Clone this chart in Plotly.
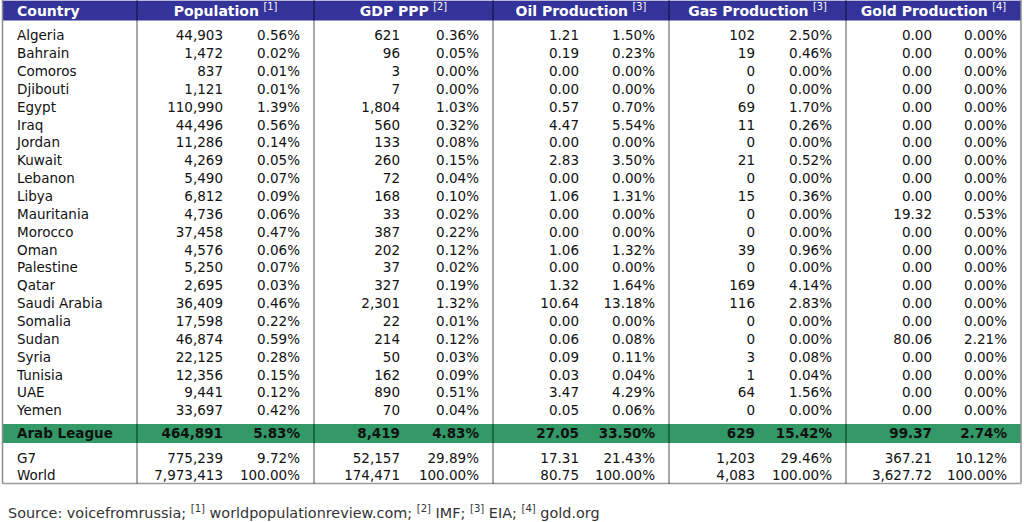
import plotly.graph_objects as go

# ---------------- data ----------------
countries = ["Algeria", "Bahrain", "Comoros", "Djibouti", "Egypt", "Iraq", "Jordan", "Kuwait",
             "Lebanon", "Libya", "Mauritania", "Morocco", "Oman", "Palestine", "Qatar",
             "Saudi Arabia", "Somalia", "Sudan", "Syria", "Tunisia", "UAE", "Yemen"]
population = [44903, 1472, 837, 1121, 110990, 44496, 11286, 4269, 5490, 6812, 4736, 37458,
              4576, 5250, 2695, 36409, 17598, 46874, 22125, 12356, 9441, 33697]
population_pct = [0.56, 0.02, 0.01, 0.01, 1.39, 0.56, 0.14, 0.05, 0.07, 0.09, 0.06, 0.47,
                  0.06, 0.07, 0.03, 0.46, 0.22, 0.59, 0.28, 0.15, 0.12, 0.42]
gdp_ppp = [621, 96, 3, 7, 1804, 560, 133, 260, 72, 168, 33, 387, 202, 37, 327, 2301, 22,
           214, 50, 162, 890, 70]
gdp_ppp_pct = [0.36, 0.05, 0.00, 0.00, 1.03, 0.32, 0.08, 0.15, 0.04, 0.10, 0.02, 0.22, 0.12,
               0.02, 0.19, 1.32, 0.01, 0.12, 0.03, 0.09, 0.51, 0.04]
oil = [1.21, 0.19, 0.00, 0.00, 0.57, 4.47, 0.00, 2.83, 0.00, 1.06, 0.00, 0.00, 1.06, 0.00,
       1.32, 10.64, 0.00, 0.06, 0.09, 0.03, 3.47, 0.05]
oil_pct = [1.50, 0.23, 0.00, 0.00, 0.70, 5.54, 0.00, 3.50, 0.00, 1.31, 0.00, 0.00, 1.32, 0.00,
           1.64, 13.18, 0.00, 0.08, 0.11, 0.04, 4.29, 0.06]
gas = [102, 19, 0, 0, 69, 11, 0, 21, 0, 15, 0, 0, 39, 0, 169, 116, 0, 0, 3, 1, 64, 0]
gas_pct = [2.50, 0.46, 0.00, 0.00, 1.70, 0.26, 0.00, 0.52, 0.00, 0.36, 0.00, 0.00, 0.96, 0.00,
           4.14, 2.83, 0.00, 0.00, 0.08, 0.04, 1.56, 0.00]
gold = [0.00, 0.00, 0.00, 0.00, 0.00, 0.00, 0.00, 0.00, 0.00, 0.00, 19.32, 0.00, 0.00, 0.00,
        0.00, 0.00, 0.00, 80.06, 0.00, 0.00, 0.00, 0.00]
gold_pct = [0.00, 0.00, 0.00, 0.00, 0.00, 0.00, 0.00, 0.00, 0.00, 0.00, 0.53, 0.00, 0.00, 0.00,
            0.00, 0.00, 0.00, 2.21, 0.00, 0.00, 0.00, 0.00]

total_labels = ["Arab League", "G7", "World"]
total_population = [464891, 775239, 7973413]
total_population_pct = [5.83, 9.72, 100.00]
total_gdp_ppp = [8419, 52157, 174471]
total_gdp_ppp_pct = [4.83, 29.89, 100.00]
total_oil = [27.05, 17.31, 80.75]
total_oil_pct = [33.50, 21.43, 100.00]
total_gas = [629, 1203, 4083]
total_gas_pct = [15.42, 29.46, 100.00]
total_gold = [99.37, 367.21, 3627.72]
total_gold_pct = [2.74, 10.12, 100.00]

group_titles = ["Population", "GDP PPP", "Oil Production", "Gas Production", "Gold Production"]
group_refs = ["[1]", "[2]", "[3]", "[3]", "[4]"]
source_text = ("Source: voicefromrussia; <sup>[1]</sup> worldpopulationreview.com; "
               "<sup>[2]</sup> IMF; <sup>[3]</sup> EIA; <sup>[4]</sup> gold.org")

# ---------------- layout constants ----------------
W, H = 1024, 522
FONT = "DejaVu Sans"
HEADER_BLUE = "#333399"
GREEN = "#339966"
TEXT = "#111111"
TEXT_DY = 1.5
ROW0, PITCH = 35.5, 17.85
TOTAL_Y = [433.5, 458.5, 475.5]
LEFT, RIGHT = 2.5, 1021
HEADER_BOTTOM = 20.5
GREEN_TOP, GREEN_BOTTOM = 424, 443
TABLE_BOTTOM = 483.5
SEPS = [137, 314, 493, 669, 846]
COUNTRY_X = 17
NUM_OFFSET = 86      # number right edge relative to group left separator
PCT_OFFSET = 14      # percent right edge relative to group right edge
BODY_SIZE = 13.5
HEAD_SIZE = 14
SOURCE_SIZE = 14.4

row_y = [ROW0 + TEXT_DY + i * PITCH for i in range(len(countries))] + [t + TEXT_DY for t in TOTAL_Y]


def fmt_int(v):
    return f"{v:,}"


def fmt_dec(v):
    return f"{v:,.2f}"


def fmt_pct(v):
    return f"{v:.2f}%"


def bold_first(items):
    return [f"<b>{t}</b>" if i == len(countries) else t for i, t in enumerate(items)]


groups = [
    (population + total_population, population_pct + total_population_pct, fmt_int),
    (gdp_ppp + total_gdp_ppp, gdp_ppp_pct + total_gdp_ppp_pct, fmt_int),
    (oil + total_oil, oil_pct + total_oil_pct, fmt_dec),
    (gas + total_gas, gas_pct + total_gas_pct, fmt_int),
    (gold + total_gold, gold_pct + total_gold_pct, fmt_dec),
]

fig = go.Figure()

# country column
fig.add_trace(go.Scatter(
    x=[COUNTRY_X] * len(row_y), y=row_y, mode="text",
    text=bold_first(countries + total_labels), textposition="middle right",
    textfont=dict(family=FONT, size=BODY_SIZE, color=TEXT), cliponaxis=False,
    hoverinfo="skip", showlegend=False))

edges = SEPS + [RIGHT]
for gi, (vals, pcts, f) in enumerate(groups):
    left, right = edges[gi], edges[gi + 1]
    fig.add_trace(go.Scatter(
        x=[left + NUM_OFFSET] * len(row_y), y=row_y, mode="text",
        text=bold_first([f(v) for v in vals]), textposition="middle left",
        textfont=dict(family=FONT, size=BODY_SIZE, color=TEXT), cliponaxis=False,
        hoverinfo="skip", showlegend=False))
    fig.add_trace(go.Scatter(
        x=[right - PCT_OFFSET] * len(row_y), y=row_y, mode="text",
        text=bold_first([fmt_pct(p) for p in pcts]), textposition="middle left",
        textfont=dict(family=FONT, size=BODY_SIZE, color=TEXT), cliponaxis=False,
        hoverinfo="skip", showlegend=False))

# header texts
head_y = HEADER_BOTTOM / 2 + 0.5 + TEXT_DY
head_x = [COUNTRY_X] + [(edges[i] + edges[i + 1]) / 2 for i in range(len(group_titles))]
head_text = ["<b>Country</b>"] + [f"<b>{t}</b> <sup>{r}</sup>" for t, r in zip(group_titles, group_refs)]
fig.add_trace(go.Scatter(
    x=head_x[:1], y=[head_y], mode="text", text=head_text[:1],
    textposition="middle right", cliponaxis=False,
    textfont=dict(family=FONT, size=HEAD_SIZE, color="white"),
    hoverinfo="skip", showlegend=False))
fig.add_trace(go.Scatter(
    x=head_x[1:], y=[head_y] * (len(head_x) - 1), mode="text",
    text=head_text[1:], textposition="middle center", cliponaxis=False,
    textfont=dict(family=FONT, size=HEAD_SIZE, color="white"),
    hoverinfo="skip", showlegend=False))

shapes = [
    dict(type="rect", x0=LEFT, x1=RIGHT, y0=0, y1=HEADER_BOTTOM, fillcolor=HEADER_BLUE,
         line=dict(width=0), layer="below"),
    dict(type="line", x0=LEFT, x1=RIGHT, y0=0.5, y1=0.5, line=dict(color="#b8b8dc", width=1)),
    dict(type="rect", x0=LEFT, x1=RIGHT, y0=GREEN_TOP, y1=GREEN_BOTTOM, fillcolor=GREEN,
         line=dict(width=0), layer="below"),
    dict(type="line", x0=LEFT, x1=LEFT, y0=0, y1=TABLE_BOTTOM, line=dict(color="#8c8c8c", width=1.5)),
    dict(type="line", x0=RIGHT, x1=RIGHT, y0=0, y1=TABLE_BOTTOM, line=dict(color="#8c8c8c", width=1.5)),
    dict(type="line", x0=LEFT, x1=RIGHT, y0=TABLE_BOTTOM, y1=TABLE_BOTTOM,
         line=dict(color="#9a9a9a", width=1.5)),
]
for s in SEPS:
    shapes.append(dict(type="line", x0=s, x1=s, y0=0, y1=TABLE_BOTTOM,
                       line=dict(color="rgba(0,0,0,0.45)", width=1.5)))

fig.update_layout(
    width=W, height=H, margin=dict(l=0, r=0, t=0, b=0),
    paper_bgcolor="white", plot_bgcolor="white",
    xaxis=dict(range=[0, W], visible=False, fixedrange=True),
    yaxis=dict(range=[H, 0], visible=False, fixedrange=True),
    shapes=shapes,
    annotations=[dict(x=6, y=512, xref="x", yref="y", text=source_text, showarrow=False,
                      xanchor="left", yanchor="middle",
                      font=dict(family=FONT, size=SOURCE_SIZE, color="#333333"))],
)

fig.write_html("out.html", config={"displayModeBar": False},
               post_script="document.body.style.margin='0';document.body.style.padding='0';")
